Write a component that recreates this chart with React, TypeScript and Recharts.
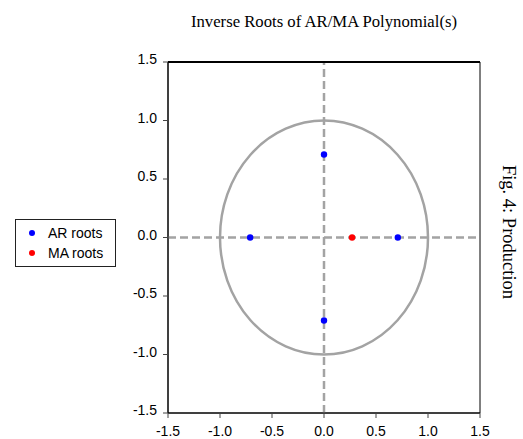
import React from 'react';
import { ScatterChart, Scatter, XAxis, YAxis, ReferenceLine, ReferenceArea } from 'recharts';

const arRootsX = [-0.71, 0.71, 0.0, 0.0];
const arRootsY = [0.0, 0.0, 0.71, -0.71];
const maRootsX = [0.27];
const maRootsY = [0.0];
const axisTicks = [-1.5, -1.0, -0.5, 0.0, 0.5, 1.0, 1.5];
const seriesNames = ['AR roots', 'MA roots'];
const seriesColors = ['#0000ff', '#ff0000'];
const titleText = 'Inverse Roots of AR/MA Polynomial(s)';
const sideText = 'Fig. 4: Production';
const unitCircleBounds = [-1, 1];
const axisDomain = [-1.5, 1.5];

const arData = arRootsX.map((x, i) => ({ x, y: arRootsY[i] }));
const maData = maRootsX.map((x, i) => ({ x, y: maRootsY[i] }));

const SANS = '"Liberation Sans", Arial, sans-serif';
const SERIF = '"Liberation Serif", "Times New Roman", serif';
const GRAY = '#a3a3a3';

const fmt = (v: number) => v.toFixed(1);

const XTick = (props: any) => {
  const { x, y, payload } = props;
  return (
    <text x={x} y={y} dy={16} textAnchor="middle" fontFamily={SANS} fontSize={14} fill="#000">
      {fmt(payload.value)}
    </text>
  );
};

const YTick = (props: any) => {
  const { x, y, payload } = props;
  return (
    <text x={x} y={y} dy={2} textAnchor="end" fontFamily={SANS} fontSize={14} fill="#000">
      {fmt(payload.value)}
    </text>
  );
};

const Ellipse = (props: any) => {
  const { x, y, width, height } = props;
  const w = Math.abs(width);
  const h = Math.abs(height);
  const left = width < 0 ? x + width : x;
  const top = height < 0 ? y + height : y;
  return (
    <ellipse
      cx={left + w / 2}
      cy={top + h / 2}
      rx={w / 2}
      ry={h / 2}
      fill="none"
      stroke={GRAY}
      strokeWidth={2.5}
    />
  );
};

const Dot = (color: string) => (props: any) => (
  <circle cx={props.cx} cy={props.cy} r={3.2} fill={color} />
);

const LegendBox = () => (
  <div
    style={{
      position: 'absolute',
      left: 15,
      top: 219,
      width: 99,
      height: 46,
      border: '1px solid #222',
      background: '#fff',
      fontFamily: SANS,
      fontSize: 14,
    }}
  >
    {seriesNames.map((name, i) => (
      <div
        key={name}
        style={{
          position: 'absolute',
          left: 0,
          top: 4 + i * 20,
          height: 18,
          lineHeight: '18px',
          whiteSpace: 'nowrap',
        }}
      >
        <span
          style={{
            position: 'absolute',
            left: 13,
            top: 6,
            width: 6,
            height: 6,
            borderRadius: '50%',
            background: seriesColors[i],
          }}
        />
        <span style={{ position: 'absolute', left: 32, top: 0 }}>{name}</span>
      </div>
    ))}
  </div>
);

export default function App() {
  return (
    <div style={{ position: 'absolute', left: 0, top: 0, width: 523, height: 439, background: '#fff' }}>
      <ScatterChart width={523} height={439} margin={{ top: 62, right: 43, bottom: 0, left: 0 }}>
        <XAxis
          type="number"
          dataKey="x"
          domain={axisDomain}
          ticks={axisTicks}
          height={26}
          tickSize={5}
          tickMargin={2}
          tick={<XTick />}
          axisLine={{ stroke: '#000' }}
          tickLine={{ stroke: '#444' }}
          allowDataOverflow
        />
        <YAxis
          type="number"
          dataKey="y"
          domain={axisDomain}
          ticks={axisTicks}
          width={168}
          tickSize={5}
          tickMargin={6}
          tick={<YTick />}
          axisLine={{ stroke: '#000' }}
          tickLine={{ stroke: '#444' }}
          allowDataOverflow
        />
        <ReferenceArea
          x1={unitCircleBounds[0]}
          x2={unitCircleBounds[1]}
          y1={unitCircleBounds[0]}
          y2={unitCircleBounds[1]}
          shape={<Ellipse />}
        />
        <ReferenceLine x={0} stroke={GRAY} strokeWidth={2.5} strokeDasharray="8 4" />
        <ReferenceLine y={0} stroke={GRAY} strokeWidth={2.5} strokeDasharray="8 4" />
        <ReferenceArea
          x1={axisDomain[0]}
          x2={axisDomain[1]}
          y1={axisDomain[0]}
          y2={axisDomain[1]}
          fill="none"
          fillOpacity={0}
          stroke="#000"
          strokeWidth={1}
        />
        <ReferenceLine y={axisDomain[1]} stroke="#000" strokeWidth={2} />
        <Scatter name={seriesNames[0]} data={arData} fill={seriesColors[0]} shape={Dot(seriesColors[0])} isAnimationActive={false} />
        <Scatter name={seriesNames[1]} data={maData} fill={seriesColors[1]} shape={Dot(seriesColors[1])} isAnimationActive={false} />
      </ScatterChart>
      <LegendBox />
      <svg
        width={523}
        height={439}
        style={{ position: 'absolute', left: 0, top: 0, pointerEvents: 'none' }}
      >
        <text x={324} y={27} textAnchor="middle" fontFamily={SERIF} fontSize={16.7} fill="#000">
          {titleText}
        </text>
        <text
          x={503}
          y={232}
          transform="rotate(90 503 232)"
          textAnchor="middle"
          fontFamily={SERIF}
          fontSize={18.5}
          fill="#000"
        >
          {sideText}
        </text>
      </svg>
    </div>
  );
}
